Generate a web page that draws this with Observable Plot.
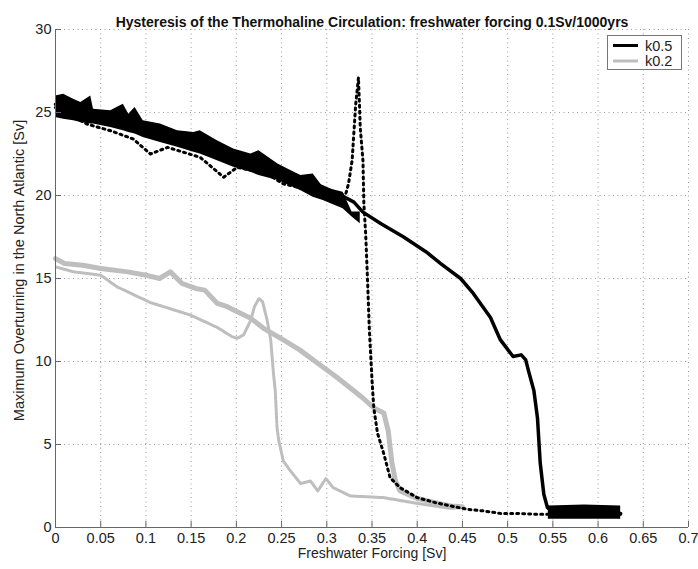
<!DOCTYPE html>
<html><head><meta charset="utf-8">
<script src="https://cdn.jsdelivr.net/npm/d3@7"></script>
<script src="https://cdn.jsdelivr.net/npm/@observablehq/plot@0.6"></script>
<style>body{margin:0;background:#fff;} svg{display:block}</style>
</head><body><div id="chart"></div>
<script>
// ---- data ----
const titleText = "Hysteresis of the Thermohaline Circulation: freshwater forcing 0.1Sv/1000yrs";
const xLabelText = "Freshwater Forcing [Sv]";
const yLabelText = "Maximum Overturning in the North Atlantic [Sv]";
const seriesNames = ["k0.5", "k0.2"];

const xTicks = [0, 0.05, 0.1, 0.15, 0.2, 0.25, 0.3, 0.35, 0.4, 0.45, 0.5, 0.55, 0.6, 0.65, 0.7];
const xTickLabels = ["0", "0.05", "0.1", "0.15", "0.2", "0.25", "0.3", "0.35", "0.4", "0.45", "0.5", "0.55", "0.6", "0.65", "0.7"];
const yTicks = [0, 5, 10, 15, 20, 25, 30];
const yTickLabels = ["0", "5", "10", "15", "20", "25", "30"];

// k0.5 increasing forcing (solid black)
const k05FwdX = [0, 0.02, 0.05, 0.08, 0.1, 0.13, 0.15, 0.18, 0.2, 0.23, 0.25, 0.28, 0.3, 0.32, 0.33, 0.34, 0.36, 0.385, 0.41, 0.426, 0.448, 0.462, 0.481, 0.492, 0.506, 0.515, 0.52, 0.523, 0.529, 0.533, 0.536, 0.54, 0.544, 0.55, 0.58, 0.6, 0.625];
const k05FwdY = [25.5, 25.4, 25.0, 24.6, 24.3, 23.8, 23.5, 23.0, 22.5, 22.0, 21.6, 20.9, 20.4, 19.9, 19.6, 19.0, 18.3, 17.5, 16.6, 15.9, 15.0, 14.1, 12.65, 11.3, 10.3, 10.4, 10.1, 9.45, 8.25, 6.6, 3.9, 2.0, 1.2, 0.9, 0.9, 0.85, 0.85];
// noisy envelope of the k0.5 solid curve (upper part)
const k05NoiseX  = [0, 0.009, 0.02, 0.028, 0.039, 0.042, 0.061, 0.075, 0.081, 0.088, 0.097, 0.116, 0.135, 0.153, 0.16, 0.179, 0.197, 0.216, 0.225, 0.246, 0.271, 0.285, 0.296, 0.318, 0.328, 0.337];
const k05NoiseHi = [26.0, 26.1, 25.8, 25.6, 26.0, 25.2, 25.1, 25.5, 24.9, 25.3, 24.5, 24.3, 23.9, 23.8, 23.9, 23.3, 22.8, 22.5, 22.7, 21.9, 21.2, 21.3, 20.5, 20.2, 19.0, 19.0];
const k05NoiseLo = [24.7, 24.6, 24.5, 24.4, 24.3, 24.3, 24.1, 23.9, 23.8, 23.7, 23.5, 23.2, 22.9, 22.6, 22.5, 22.1, 21.7, 21.4, 21.2, 20.9, 20.3, 19.9, 19.7, 19.2, 18.7, 18.3];
// noisy envelope of the collapsed state
const k05FlatX  = [0.545, 0.585, 0.625];
const k05FlatHi = [1.3, 1.35, 1.3];
const k05FlatLo = [0.5, 0.5, 0.5];
// k0.5 decreasing forcing (dotted black)
const k05BwdX = [0.625, 0.6, 0.575, 0.55, 0.53, 0.511, 0.492, 0.473, 0.455, 0.437, 0.42, 0.4, 0.381, 0.37, 0.363, 0.356, 0.352, 0.35, 0.347, 0.345, 0.343, 0.341, 0.34, 0.337, 0.336, 0.335, 0.332, 0.328, 0.324, 0.321, 0.3, 0.268, 0.252, 0.234, 0.201, 0.186, 0.16, 0.124, 0.105, 0.086, 0.061, 0.035, 0];
const k05BwdY = [0.8, 0.8, 0.8, 0.8, 0.8, 0.85, 0.85, 1.0, 1.1, 1.3, 1.5, 1.8, 2.4, 3.0, 4.45, 5.7, 7.2, 8.9, 12.0, 15.0, 17.7, 19.5, 22.1, 24.1, 25.7, 27.1, 25.5, 22.1, 20.7, 20.1, 19.9, 20.5, 20.7, 21.3, 21.7, 21.1, 22.3, 22.9, 22.5, 23.4, 23.9, 24.3, 25.3];

// k0.2 increasing forcing (solid gray)
const k02FwdX = [0, 0.01, 0.03, 0.05, 0.08, 0.1, 0.115, 0.127, 0.14, 0.155, 0.165, 0.179, 0.19, 0.201, 0.216, 0.23, 0.252, 0.27, 0.29, 0.31, 0.326, 0.34, 0.352, 0.363, 0.368, 0.372, 0.376, 0.381, 0.4, 0.42, 0.437, 0.45];
const k02FwdY = [16.2, 15.9, 15.8, 15.6, 15.4, 15.2, 15.0, 15.4, 14.7, 14.4, 14.3, 13.5, 13.3, 13.0, 12.6, 12.0, 11.3, 10.7, 9.9, 9.1, 8.4, 7.8, 7.2, 6.9, 5.8, 3.9, 2.8, 2.2, 1.75, 1.5, 1.3, 1.25];
// k0.2 decreasing forcing (dotted gray)
const k02BwdX = [0.45, 0.437, 0.4, 0.363, 0.326, 0.307, 0.299, 0.29, 0.282, 0.271, 0.26, 0.252, 0.247, 0.245, 0.243, 0.241, 0.238, 0.234, 0.229, 0.225, 0.22, 0.216, 0.208, 0.201, 0.195, 0.179, 0.149, 0.105, 0.068, 0.05, 0.02, 0];
const k02BwdY = [1.2, 1.15, 1.45, 1.8, 1.9, 2.4, 2.95, 2.2, 2.8, 2.65, 3.4, 4.0, 5.2, 6.0, 8.25, 9.3, 11.3, 12.5, 13.6, 13.8, 13.3, 12.5, 11.6, 11.4, 11.5, 12.05, 12.8, 13.55, 14.5, 15.2, 15.4, 15.7];

// ---- build tables ----
const zip = (xs, ys) => xs.map((x, i) => ({x, y: ys[i]}));
const band = (xs, hi, lo) => xs.map((x, i) => ({x, hi: hi[i], lo: lo[i]}));
const k05Fwd = zip(k05FwdX, k05FwdY);
const k05Bwd = zip(k05BwdX, k05BwdY);
const k02Fwd = zip(k02FwdX, k02FwdY);
const k02Bwd = zip(k02BwdX, k02BwdY);
const k05Noise = band(k05NoiseX, k05NoiseHi, k05NoiseLo);
const k05Flat = band(k05FlatX, k05FlatHi, k05FlatLo);

const BLACK = "#000";
const GRAY = "#bebebe";
const FONT = "'Liberation Sans', Arial, Helvetica, sans-serif";

const plot = Plot.plot({
  width: 698, height: 569,
  marginLeft: 55, marginRight: 10, marginTop: 29, marginBottom: 42,
  style: {fontFamily: FONT, background: "#fff", color: "#222"},
  x: {domain: [0, 0.7], label: null},
  y: {domain: [0, 30], label: null},
  marks: [
    Plot.gridX(xTicks, {stroke: "#9a9a9a", strokeOpacity: 1, strokeDasharray: "1,3.5"}),
    Plot.gridY(yTicks, {stroke: "#9a9a9a", strokeOpacity: 1, strokeDasharray: "1,3.5"}),
    // k0.2
    Plot.line(k02Bwd, {x: "x", y: "y", stroke: GRAY, strokeWidth: 3, strokeDasharray: "3,1"}),
    Plot.line(k02Fwd, {x: "x", y: "y", stroke: GRAY, strokeWidth: 5}),
    // k0.5
    Plot.areaY(k05Noise, {x: "x", y1: "lo", y2: "hi", fill: BLACK}),
    Plot.areaY(k05Flat, {x: "x", y1: "lo", y2: "hi", fill: BLACK}),
    Plot.line(k05Bwd, {x: "x", y: "y", stroke: BLACK, strokeWidth: 3, strokeDasharray: "2,4"}),
    Plot.line(k05Fwd, {x: "x", y: "y", stroke: BLACK, strokeWidth: 3.5}),
    // axes
    Plot.ruleX([0], {stroke: "#666"}),
    Plot.ruleY([0], {stroke: "#666"}),
    Plot.axisX(xTicks, {tickSize: -6, stroke: "#666", tickFormat: () => ""}),
    Plot.axisY(yTicks, {tickSize: -6, stroke: "#666", tickFormat: () => ""}),
    Plot.axisX(xTicks, {tickSize: 0, tickPadding: 5, fontSize: 14.5, fill: "#222",
      tickFormat: d => xTickLabels[xTicks.indexOf(d)]}),
    Plot.axisY(yTicks, {tickSize: 0, tickPadding: 4, fontSize: 14.5, fill: "#222",
      tickFormat: d => yTickLabels[yTicks.indexOf(d)]}),
    // title and axis labels
    Plot.text([titleText], {frameAnchor: "top", dy: -12, fontWeight: "bold", fontSize: 14, fill: "#111"}),
    Plot.text([xLabelText], {frameAnchor: "bottom", dy: 30, fontSize: 14, fill: "#222"}),
    Plot.text([yLabelText], {frameAnchor: "left", textAnchor: "middle", dx: -36, dy: -8, rotate: -90, fontSize: 14.5, fill: "#222"})
  ]
});

// legend (MATLAB-style box in the upper right)
const svg = d3.select(plot);
const lg = svg.append("g").attr("font-family", FONT).attr("text-anchor", "start");
lg.append("rect").attr("x", 607.5).attr("y", 35.5).attr("width", 74).attr("height", 34)
  .attr("fill", "#fff").attr("stroke", "#777");
[[BLACK, 45.5], [GRAY, 61]].forEach(([c, yy], i) => {
  lg.append("line").attr("x1", 613).attr("x2", 638).attr("y1", yy).attr("y2", yy)
    .attr("stroke", c).attr("stroke-width", 3);
  lg.append("text").attr("x", 645).attr("y", yy).attr("dy", "0.35em")
    .attr("font-size", 14.5).attr("fill", "#222").text(seriesNames[i]);
});

document.getElementById("chart").appendChild(plot);
</script>
</body></html>
